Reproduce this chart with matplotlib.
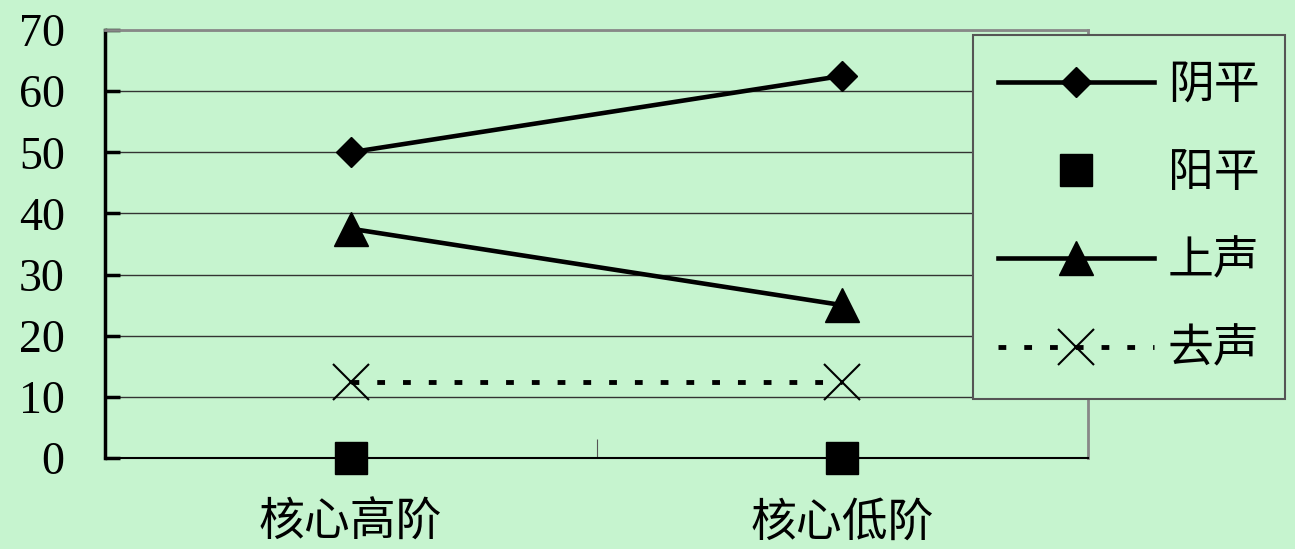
import numpy as np
import matplotlib.pyplot as plt

plt.rcParams['font.family'] = ['Liberation Serif', 'Noto Sans CJK SC']

# data
categories = ['核心高阶', '核心低阶']
series_names = ['阴平', '阳平', '上声', '去声']
yinping = [50, 62.5]
yangping = [0, 0]
shangsheng = [37.5, 25]
qusheng = [12.5, 12.5]
yticks = [0, 10, 20, 30, 40, 50, 60, 70]

bg = '#c6f4cf'

fig = plt.figure(figsize=(12.95, 5.49), dpi=100, facecolor=bg)
ax = fig.add_axes([105/1295, 1-458/549, (1088-105)/1295, (458-30)/549])
ax.set_facecolor(bg)

x = np.arange(len(categories))

ax.plot(x, yinping, '-', color='k', lw=3.3, marker='D', markersize=15.5,
        label=series_names[0], zorder=5, clip_on=False)
ax.plot(x, yangping, linestyle='none', color='k', marker='s', markersize=23,
        label=series_names[1], zorder=5, clip_on=False)
ax.plot(x, shangsheng, '-', color='k', lw=3.3, marker='^', markersize=25,
        label=series_names[2], zorder=5, clip_on=False)
ax.plot(x, qusheng, color='k', lw=3.5, linestyle=(0, (1.6, 3.7)),
        dash_capstyle='butt', marker='x', markersize=26, markeredgewidth=1.5,
        label=series_names[3], zorder=5, clip_on=False)

ax.set_xlim(-0.5, 1.5)
ax.set_ylim(0, 70)
ax.set_yticks(yticks)
ax.set_xticks(x)
ax.set_xticklabels(categories, fontsize=33, family='Noto Sans CJK SC')
ax.set_xticks([0.5], minor=True)

ax.tick_params(axis='y', direction='in', length=11, width=2.5, pad=29,
               labelsize=33)
ax.tick_params(axis='x', which='major', length=0, pad=29)
ax.tick_params(axis='x', which='minor', direction='in', length=14,
               width=0.8, color='#555555')

ax.yaxis.grid(True, color='#333333', lw=1)
ax.set_axisbelow(True)

ax.spines['left'].set_color('k')
ax.spines['left'].set_linewidth(2.5)
ax.spines['bottom'].set_color('k')
ax.spines['bottom'].set_linewidth(1.5)
for s in ['top', 'right']:
    ax.spines[s].set_color('#888888')
    ax.spines[s].set_linewidth(2)

leg = fig.legend(loc='upper left', bbox_to_anchor=(973/1295, 1-35/549),
                 prop={'family': 'Noto Sans CJK SC', 'size': 33},
                 handlelength=3.4, handletextpad=0.3, labelspacing=0.87,
                 borderpad=0.55, borderaxespad=0, fancybox=False,
                 framealpha=1, facecolor=bg, edgecolor='#555555')
leg.get_frame().set_linewidth(1.5)

plt.savefig('out.png', dpi=100, facecolor=bg)
